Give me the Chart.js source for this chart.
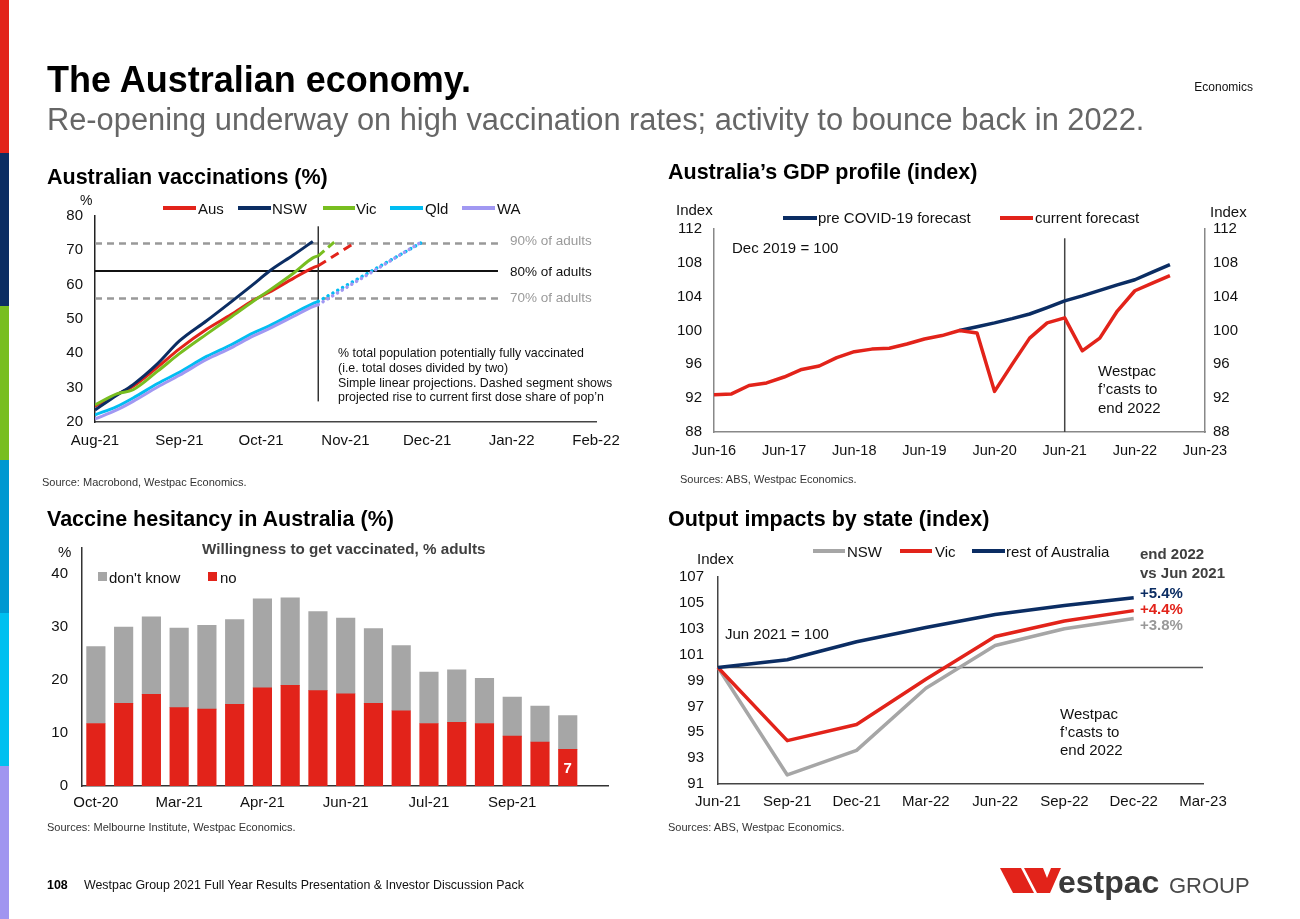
<!DOCTYPE html>
<html><head><meta charset="utf-8"><title>The Australian economy</title>
<script src="https://cdn.jsdelivr.net/npm/chart.js@4.4.1/dist/chart.umd.min.js"></script>
<style>
html,body{margin:0;padding:0;background:#fff;}
#page{position:relative;width:1300px;height:919px;overflow:hidden;background:#fff;font-family:Arial,"Liberation Sans",Helvetica,sans-serif;}
.t{position:absolute;white-space:nowrap;line-height:1;}
.sw{position:absolute;}
canvas{position:absolute;}
</style></head><body><div id="page">
<canvas id="c1" width="580" height="265" style="left:40px;top:190px;width:580px;height:265px"></canvas>
<canvas id="c2" width="600" height="265" style="left:660px;top:200px;width:600px;height:265px"></canvas>
<canvas id="c3" width="580" height="275" style="left:40px;top:540px;width:580px;height:275px"></canvas>
<canvas id="c4" width="600" height="270" style="left:660px;top:545px;width:600px;height:270px"></canvas>
<svg style="position:absolute;left:0;top:0" width="1300" height="919">
  <polygon points="1000,868 1021,868 1034,893 1013,893" fill="#E2231A"/>
  <polygon points="1024,868 1043,868 1047,878 1051,868 1061,868 1050,893 1037,893" fill="#E2231A"/>
  <text x="1058" y="893" font-family="Arial, 'Liberation Sans', sans-serif" font-size="32" font-weight="bold" fill="#3a3a3a">estpac</text>
  <text x="1169" y="893" font-family="Arial, 'Liberation Sans', sans-serif" font-size="22" fill="#4a4a4a">GROUP</text>
</svg>
</div>
<script>
// ---------- DATA ----------
// Chart 1: Australian vaccinations (%), x = days since 1 Aug 2021
const vacTickDays   = [0, 31, 61, 92, 122, 153, 184];
const vacTickLabels = ['Aug-21','Sep-21','Oct-21','Nov-21','Dec-21','Jan-22','Feb-22'];
const vacDays = [0, 8, 14, 23, 31, 41, 50, 58, 64, 73, 80, 82];
const vacAus  = [24.6, 28.0, 30.4, 36.0, 41.3, 47.0, 51.3, 55.4, 57.8, 61.9, 64.9, 65.5];
const vacNSW  = [23.5, 27.8, 30.9, 37.0, 43.6, 49.5, 55.0, 60.0, 63.9, 68.7, 72.6, null];
const vacVic  = [25.0, 28.2, 29.4, 34.8, 39.9, 45.6, 50.6, 55.1, 58.3, 63.4, 67.8, 68.4];
const vacQld  = [22.1, 24.5, 27.0, 31.2, 34.5, 39.1, 42.5, 45.9, 48.0, 51.7, 54.5, 55.1];
const vacWA   = [20.9, 23.5, 26.0, 30.2, 33.6, 38.2, 41.6, 45.0, 47.2, 50.8, 53.6, 54.2];
const projDays = { Aus: [82, 95], Vic: [82, 88], Qld: [82, 120], WA: [82, 119] };
const projVals = { Aus: [65.5, 72.0], Vic: [68.4, 72.5], Qld: [55.1, 72.3], WA: [54.2, 72.0] };
const adultLevels = [72, 64, 56];           // 90%, 80%, 70% of adults
const adultLineDays = [0, 148];
const todayDay = 82, todayRange = [26, 77];

// Chart 2: GDP profile (index)
const gdpQuarters = ['Jun-16','Sep-16','Dec-16','Mar-17','Jun-17','Sep-17','Dec-17','Mar-18','Jun-18','Sep-18','Dec-18','Mar-19','Jun-19','Sep-19','Dec-19','Mar-20','Jun-20','Sep-20','Dec-20','Mar-21','Jun-21','Sep-21','Dec-21','Mar-22','Jun-22','Sep-22','Dec-22','Mar-23','Jun-23'];
const gdpTickLabels = ['Jun-16','Jun-17','Jun-18','Jun-19','Jun-20','Jun-21','Jun-22','Jun-23'];
const gdpCurrent = [92.4, 92.5, 93.5, 93.8, 94.5, 95.4, 95.8, 96.8, 97.5, 97.8, 97.9, 98.4, 99.0, 99.4, 100.0, 99.7, 92.8, 96.0, 99.1, 100.9, 101.5, 97.6, 99.1, 102.3, 104.7, 105.6, 106.5, null, null];
const gdpPre     = [null, null, null, null, null, null, null, null, null, null, null, null, null, null, 100.0, 100.45, 100.9, 101.4, 101.95, 102.7, 103.5, 104.1, 104.75, 105.4, 106.0, 106.9, 107.8, null, null];
const gdpMarker = 'Jun-21', gdpMarkerRange = [88, 110.9];

// Chart 3: Vaccine hesitancy (%)
const hesLabels = ['Oct-20','Dec-20','Jan-21','Mar-21','Mar-21','Apr-21','Apr-21','May-21','May-21','Jun-21','Jun-21','Jul-21','Jul-21','Aug-21','Aug-21','Sep-21','Sep-21','Oct-21'];
const hesTickIdx = [0, 3, 6, 9, 12, 15];
const hesNo       = [11.8, 15.6, 17.3, 14.8, 14.5, 15.4, 18.5, 19.0, 18.0, 17.4, 15.6, 14.2, 11.8, 12.0, 11.8, 9.4, 8.3, 6.9];
const hesDontKnow = [14.5, 14.4, 14.6, 15.0, 15.8, 16.0, 16.8, 16.5, 14.9, 14.3, 14.1, 12.3, 9.7, 9.9, 8.5, 7.4, 6.8, 6.4];

// Chart 4: Output impacts by state (index)
const outQuarters = ['Jun-21','Sep-21','Dec-21','Mar-22','Jun-22','Sep-22','Dec-22','Mar-23'];
const outNSW  = [100, 91.7, 93.6, 98.4, 101.7, 103.0, 103.8];
const outVic  = [100, 94.35, 95.6, 99.1, 102.4, 103.6, 104.4];
const outRest = [100, 100.6, 102.0, 103.1, 104.1, 104.8, 105.4];
const outBase = [100, 100, 100, 100, 100, 100, 100, 100];

// ---------- COLOURS ----------
const RED = '#E2231A', NAVY = '#0B2D63', GREEN = '#78BE20', CYAN = '#00BDF2', LAV = '#A198F2', GREY = '#A6A6A6';

// ---------- PAGE TEXT ----------
const page = document.getElementById('page');
function txt(s, x, cy, size, o = {}) {
  const d = document.createElement('div');
  d.className = 't';
  d.textContent = s;
  d.style.top = (cy - 0.4885 * size) + 'px';
  d.style.fontSize = size + 'px';
  if (o.right !== undefined) d.style.right = (1300 - o.right) + 'px'; else d.style.left = x + 'px';
  if (o.bold) d.style.fontWeight = 'bold';
  d.style.color = o.color || '#111';
  page.appendChild(d);
}
function sw(x1, x2, cy, color, h = 3.5) {
  const d = document.createElement('div');
  d.className = 'sw';
  d.style.left = x1 + 'px'; d.style.width = (x2 - x1) + 'px';
  d.style.top = (cy - h / 2) + 'px'; d.style.height = h + 'px';
  d.style.background = color;
  page.appendChild(d);
}
// left colour strip
['#E2231A','#0B2D63','#78BE20','#0098D1','#00C0F0','#A095F0'].forEach((c, i) => {
  const d = document.createElement('div'); d.className = 'sw';
  d.style.left = '0px'; d.style.width = '9px'; d.style.top = (i * 153.2) + 'px'; d.style.height = '154px'; d.style.background = c;
  page.appendChild(d);
});
txt('The Australian economy.', 47, 79.7, 36, {bold: true, color: '#000'});
txt('Re-opening underway on high vaccination rates; activity to bounce back in 2022.', 47, 120.5, 30.8, {color: '#666'});
txt('Economics', 0, 87, 12, {right: 1253, color: '#111'});
txt('Australian vaccinations (%)', 47, 178, 21.5, {bold: true, color: '#000'});
txt('Australia\u2019s GDP profile (index)', 668, 173, 21.5, {bold: true, color: '#000'});
txt('Vaccine hesitancy in Australia (%)', 47, 520, 21.5, {bold: true, color: '#000'});
txt('Output impacts by state (index)', 668, 520, 21.5, {bold: true, color: '#000'});
txt('Source: Macrobond, Westpac Economics.', 42, 482, 11, {color: '#333'});
txt('Sources: ABS, Westpac Economics.', 680, 479, 11, {color: '#333'});
txt('Sources: Melbourne Institute, Westpac Economics.', 47, 827, 11, {color: '#333'});
txt('Sources: ABS, Westpac Economics.', 668, 827, 11, {color: '#333'});
txt('108', 47, 885, 12.4, {bold: true, color: '#000'});
txt('Westpac Group 2021 Full Year Results Presentation & Investor Discussion Pack', 84, 885, 12.4, {color: '#111'});

// chart 1 annotations + legend
txt('%', 80, 200, 14);
sw(163, 196, 208, RED); txt('Aus', 198, 208, 15);
sw(238, 271, 208, NAVY); txt('NSW', 272, 208, 15);
sw(323, 355, 208, GREEN); txt('Vic', 356, 208, 15);
sw(390, 423, 208, CYAN); txt('Qld', 425, 208, 15);
sw(462, 495, 208, LAV); txt('WA', 497, 208, 15);
txt('90% of adults', 510, 241, 13.5, {color: '#9a9a9a'});
txt('80% of adults', 510, 271.5, 13.5, {color: '#111'});
txt('70% of adults', 510, 298, 13.5, {color: '#9a9a9a'});
txt('% total population potentially fully vaccinated', 338, 353, 12.4);
txt('(i.e. total doses divided by two)', 338, 368, 12.4);
txt('Simple linear projections. Dashed segment shows', 338, 383, 12.4);
txt('projected rise to current first dose share of pop\u2019n', 338, 397.5, 12.4);

// chart 2 annotations + legend
txt('Index', 676, 209, 15);
txt('Index', 1210, 211, 15);
sw(783, 817, 218, NAVY); txt('pre COVID-19 forecast', 818, 217, 15);
sw(1000, 1033, 218, RED); txt('current forecast', 1035, 217, 15);
txt('Dec 2019 = 100', 732, 247, 15);
txt('Westpac', 1098, 370, 15);
txt('f\u2019casts to', 1098, 388.5, 15);
txt('end 2022', 1098, 407, 15);

// chart 3 annotations + legend
txt('%', 58, 551, 15);
txt('Willingness to get vaccinated, % adults', 202, 548, 15.2, {bold: true, color: '#404040'});
sw(98, 107, 576.5, GREY, 9); txt("don't know", 109, 577, 15);
sw(208, 217, 576.5, RED, 9); txt('no', 220, 577, 15);

// chart 4 annotations + legend
txt('Index', 697, 558, 15);
sw(813, 845, 551, GREY); txt('NSW', 847, 551, 15);
sw(900, 932, 551, RED); txt('Vic', 935, 551, 15);
sw(972, 1005, 551, NAVY); txt('rest of Australia', 1006, 551, 15);
txt('Jun 2021 = 100', 725, 633, 15);
txt('end 2022', 1140, 553, 15, {bold: true, color: '#404040'});
txt('vs Jun 2021', 1140, 572, 15, {bold: true, color: '#404040'});
txt('+5.4%', 1140, 592, 15, {bold: true, color: NAVY});
txt('+4.4%', 1140, 608, 15, {bold: true, color: RED});
txt('+3.8%', 1140, 624, 15, {bold: true, color: '#999'});
txt('Westpac', 1060, 713, 15);
txt('f\u2019casts to', 1060, 731, 15);
txt('end 2022', 1060, 749.5, 15);

// ---------- CHARTS ----------
Chart.defaults.font.family = 'Arial, "Liberation Sans", sans-serif';
Chart.defaults.color = '#111';
const noPad = (w, h) => s => { if (w !== undefined) s.width = w; if (h !== undefined) s.height = h; s.paddingLeft = 0; s.paddingRight = 0; s.paddingTop = 0; s.paddingBottom = 0; };
const common = {
  responsive: false, animation: false, devicePixelRatio: 1,
  plugins: {legend: {display: false}, tooltip: {enabled: false}},
  elements: {point: {radius: 0, hoverRadius: 0}, line: {tension: 0, borderCapStyle: 'butt', borderJoinStyle: 'round'}}
};
const pts = (xs, ys) => xs.map((x, i) => ({x, y: ys[i]})).filter(p => p.y !== null);

// Chart 1
const solid = (label, ys, color, order) => ({label, data: pts(vacDays, ys), borderColor: color, borderWidth: 3, order, cubicInterpolationMode: 'monotone'});
const proj = (k, color, dash, cap) => ({label: k + ' projection', data: pts(projDays[k], projVals[k]), borderColor: color, borderWidth: cap === 'round' ? 3.5 : 3, borderDash: dash, borderCapStyle: cap, order: 2});
new Chart(document.getElementById('c1'), {
  type: 'line',
  data: {datasets: [
    solid('WA', vacWA, LAV, 1), solid('Qld', vacQld, CYAN, 1.1), solid('Vic', vacVic, GREEN, 1.2), solid('NSW', vacNSW, NAVY, 1.3), solid('Aus', vacAus, RED, 1.4),
    proj('WA', LAV, [0.1, 5.5], 'round'), proj('Qld', CYAN, [0.1, 5.5], 'round'), proj('Vic', GREEN, [8, 5], 'butt'), proj('Aus', RED, [9, 6], 'butt'),
    {label: '90% of adults', data: pts(adultLineDays, [adultLevels[0], adultLevels[0]]), borderColor: '#999', borderWidth: 2.5, borderDash: [7, 5], order: 10},
    {label: '80% of adults', data: pts(adultLineDays, [adultLevels[1], adultLevels[1]]), borderColor: '#111', borderWidth: 2, order: 10},
    {label: '70% of adults', data: pts(adultLineDays, [adultLevels[2], adultLevels[2]]), borderColor: '#999', borderWidth: 2.5, borderDash: [7, 5], order: 10},
    {label: 'latest', data: pts([todayDay, todayDay], todayRange), borderColor: '#333', borderWidth: 1.5, order: 9}
  ]},
  options: Object.assign({}, common, {
    layout: {padding: {top: 26, right: 24, left: 0, bottom: 0}},
    scales: {
      x: {type: 'linear', min: 0, max: 184, grid: {display: false, drawTicks: false}, border: {color: '#444', width: 1.5},
          afterBuildTicks: s => { s.ticks = vacTickDays.map(v => ({value: v})); },
          afterFit: noPad(undefined, 33),
          ticks: {font: {size: 15}, padding: 10, maxRotation: 0, autoSkip: false, callback: v => vacTickLabels[vacTickDays.indexOf(v)]}},
      y: {min: 20, max: 80, grid: {display: false, drawTicks: false}, border: {color: '#222', width: 1.5},
          afterFit: noPad(55), ticks: {stepSize: 10, font: {size: 15}, padding: 12}}
    }
  })
});

// Chart 2
const gdpTick = function (v) { const l = this.getLabelForValue(v); return gdpTickLabels.includes(l) ? l : ''; };
new Chart(document.getElementById('c2'), {
  type: 'line',
  data: {labels: gdpQuarters, datasets: [
    {label: 'current forecast', data: gdpCurrent, borderColor: RED, borderWidth: 3.5, order: 1},
    {label: 'pre COVID-19 forecast', data: gdpPre, borderColor: NAVY, borderWidth: 3.5, order: 2},
    {label: 'forecast start', data: [{x: gdpMarker, y: gdpMarkerRange[0]}, {x: gdpMarker, y: gdpMarkerRange[1]}], borderColor: '#444', borderWidth: 1.5, order: 5}
  ]},
  options: Object.assign({}, common, {
    layout: {padding: {top: 29, right: 0, left: 0, bottom: 0}},
    scales: {
      x: {type: 'category', offset: false, grid: {display: false, drawTicks: false}, border: {color: '#888', width: 1.5},
          afterFit: noPad(undefined, 33), ticks: {font: {size: 14.5}, padding: 10, maxRotation: 0, autoSkip: false, callback: gdpTick}},
      y: {position: 'left', min: 88, max: 112, grid: {display: false, drawTicks: false}, border: {color: '#888', width: 1.5},
          afterFit: noPad(54), ticks: {stepSize: 4, font: {size: 15}, padding: 12}},
      y2: {position: 'right', min: 88, max: 112, grid: {display: false, drawTicks: false}, border: {color: '#888', width: 1.5},
          afterFit: noPad(55), ticks: {stepSize: 4, font: {size: 15}, padding: 8}}
    }
  })
});

// Chart 3
const barLabel = {id: 'barLabel', afterDatasetsDraw(chart) {
  const i = hesNo.length - 1;
  const el = chart.getDatasetMeta(0).data[i];
  const ctx = chart.ctx; ctx.save();
  ctx.fillStyle = '#fff'; ctx.font = 'bold 15px Arial, "Liberation Sans", sans-serif';
  ctx.textAlign = 'center'; ctx.textBaseline = 'middle';
  ctx.fillText(String(Math.round(hesNo[i])), el.x, (el.y + el.base) / 2 + 1);
  ctx.restore();
}};
new Chart(document.getElementById('c3'), {
  type: 'bar',
  data: {datasets: [
    {label: 'no', data: hesNo.map((v, i) => ({x: i, y: v})), backgroundColor: RED, barThickness: 18.5},
    {label: "don't know", data: hesDontKnow.map((v, i) => ({x: i, y: v})), backgroundColor: GREY, barThickness: 18.5}
  ]},
  plugins: [barLabel],
  options: Object.assign({}, common, {
    layout: {padding: {top: 7.5, right: 12, left: 0, bottom: 0}},
    scales: {
      x: {type: 'linear', offset: false, stacked: true, min: -0.5, max: 18.45, grid: {display: false, drawTicks: false, offset: false}, border: {color: '#333', width: 1.5},
          afterBuildTicks: s => { s.ticks = hesTickIdx.map(v => ({value: v})); },
          afterFit: noPad(undefined, 29),
          ticks: {font: {size: 15}, padding: 8, maxRotation: 0, autoSkip: false, callback: v => hesLabels[v]}},
      y: {stacked: true, min: 0, max: 45, grid: {display: false, drawTicks: false}, border: {color: '#333', width: 1.5},
          afterBuildTicks: s => { s.ticks = [0, 10, 20, 30, 40].map(v => ({value: v})); },
          afterFit: noPad(42), ticks: {font: {size: 15}, padding: 14}}
    }
  })
});

// Chart 4
new Chart(document.getElementById('c4'), {
  type: 'line',
  data: {labels: outQuarters, datasets: [
    {label: 'rest of Australia', data: outRest, borderColor: NAVY, borderWidth: 3.5, order: 1},
    {label: 'Vic', data: outVic, borderColor: RED, borderWidth: 3.5, order: 2},
    {label: 'NSW', data: outNSW, borderColor: GREY, borderWidth: 3.5, order: 3},
    {label: 'Jun 2021 = 100', data: outBase, borderColor: '#555', borderWidth: 1.5, order: 10}
  ]},
  options: Object.assign({}, common, {
    layout: {padding: {top: 32, right: 57, left: 0, bottom: 0}},
    scales: {
      x: {type: 'category', offset: false, grid: {display: false, drawTicks: false}, border: {color: '#444', width: 1.5},
          afterFit: noPad(undefined, 31), ticks: {font: {size: 15}, padding: 9, maxRotation: 0, autoSkip: false}},
      y: {min: 91, max: 107, grid: {display: false, drawTicks: false}, border: {color: '#444', width: 1.5},
          afterFit: noPad(58), ticks: {stepSize: 2, font: {size: 15}, padding: 14}}
    }
  })
});
</script>
</body></html>
